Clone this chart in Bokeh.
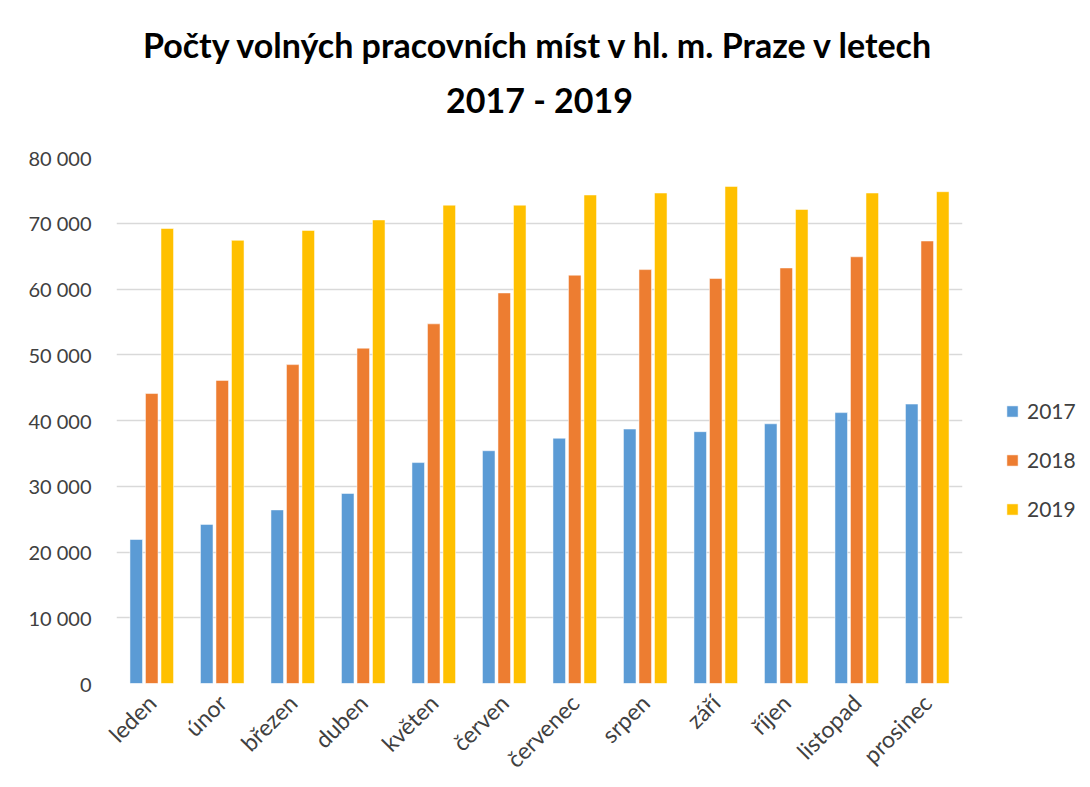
from bokeh.plotting import figure
from bokeh.models import (ColumnDataSource, FactorRange, Range1d, Legend, LegendItem, Title)
from bokeh.transform import dodge
from bokeh.embed import file_html
from bokeh.resources import INLINE

months = ["leden", "únor", "březen", "duben", "květen", "červen",
          "červenec", "srpen", "září", "říjen", "listopad", "prosinec"]
v2017 = [21900, 24200, 26400, 28900, 33600, 35400, 37300, 38700, 38300, 39500, 41200, 42500]
v2018 = [44100, 46100, 48500, 51000, 54700, 59400, 62100, 62950, 61600, 63200, 64900, 67300]
v2019 = [69200, 67400, 68900, 70500, 72750, 72750, 74300, 74600, 75600, 72100, 74600, 74800]
series = ["2017", "2018", "2019"]
colors = ["#5B9BD5", "#ED7D31", "#FFC000"]
yticks = [0, 10000, 20000, 30000, 40000, 50000, 60000, 70000, 80000]
ytick_labels = ["0", "10 000", "20 000", "30 000", "40 000", "50 000", "60 000", "70 000", "80 000"]
title_line1 = "Počty volných pracovních míst v hl. m. Praze v letech"
title_line2 = "2017 - 2019"

FONT = "Lato"

source = ColumnDataSource(dict(month=months, y2017=v2017, y2018=v2018, y2019=v2019))

p = figure(x_range=FactorRange(factors=months), y_range=Range1d(0, 80000),
           frame_width=846, frame_height=526, output_backend="svg", toolbar_location=None,
           min_border_left=116, min_border_right=120, min_border_top=157, min_border_bottom=96)
p.outline_line_color = None
p.background_fill_color = "white"
p.border_fill_color = "white"

renderers = []
offsets = [-0.22, 0.0, 0.22]
for s, c, off in zip(series, colors, offsets):
    r = p.vbar(x=dodge("month", off, range=p.x_range), top="y" + s, width=0.178,
               source=source, fill_color=c, line_color="white", line_alpha=0.5, line_width=1)
    renderers.append(r)

p.xgrid.grid_line_color = None
p.ygrid.grid_line_color = "#D9D9D9"
p.ygrid.grid_line_width = 1.5
p.yaxis.ticker = yticks
p.yaxis.major_label_overrides = {t: l for t, l in zip(yticks, ytick_labels)}
p.yaxis.axis_line_color = None
p.yaxis.major_tick_line_color = None
p.yaxis.minor_tick_line_color = None
p.yaxis.major_label_text_font = FONT
p.yaxis.major_label_text_font_size = "20px"
p.yaxis.major_label_text_color = "#404040"
p.yaxis.major_label_standoff = 19

p.xaxis.axis_line_color = None
p.xaxis.major_tick_line_color = None
p.xaxis.minor_tick_line_color = None
p.xaxis.major_label_text_font = FONT
p.xaxis.major_label_text_font_size = "23px"
p.xaxis.major_label_text_color = "#404040"
p.xaxis.major_label_orientation = 0.785
p.xaxis.major_label_standoff = 9

legend = Legend(items=[LegendItem(label=s, renderers=[r]) for s, r in zip(series, renderers)],
                location=(43, 162), glyph_width=14, glyph_height=14, spacing=24,
                label_text_font=FONT, label_text_font_size="21px", label_text_color="#404040",
                border_line_color=None, background_fill_alpha=0, padding=0, margin=0,
                label_standoff=8)
p.add_layout(legend, "right")

t2 = Title(text=title_line2, align="center", text_font=FONT, text_font_size="34px",
           text_font_style="bold", text_color="#000000", offset=19, standoff=75)
t1 = Title(text=title_line1, align="center", text_font=FONT, text_font_size="34px",
           text_font_style="bold", text_color="#000000", offset=19, standoff=-50,
           vertical_align="bottom")
p.add_layout(t2, "above")
p.add_layout(t1, "above")

open("out.html", "w").write(file_html(p, INLINE))
